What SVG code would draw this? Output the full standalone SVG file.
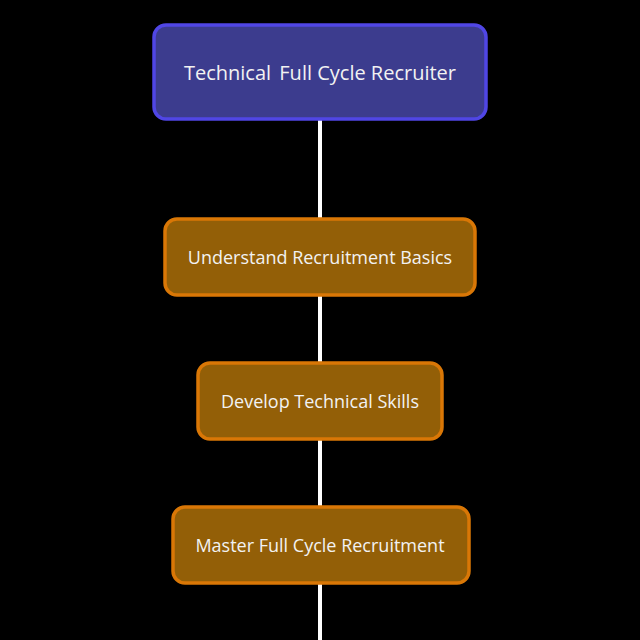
<svg xmlns="http://www.w3.org/2000/svg" width="640" height="640" viewBox="0 0 640 640">
<style>
.bg{fill:#000}
.edge{stroke:#fff;stroke-width:4;fill:none}
.main rect{fill:#3c3c8e;stroke:#5046e5;stroke-width:3.5}
.step rect{fill:#935f07;stroke:#d97706;stroke-width:3.5}
text{font-family:"Open Sans","Noto Sans",sans-serif;font-size:18px;fill:#f2f2f2;text-anchor:middle;dominant-baseline:central}
.main text{font-size:20px}
</style>
<rect class="bg" x="0" y="0" width="640" height="640"/>
<g id="connectors">
<line class="edge" x1="320" y1="119" x2="320" y2="218"/>
<line class="edge" x1="320" y1="295" x2="320" y2="362"/>
<line class="edge" x1="320" y1="439" x2="320" y2="506"/>
<line class="edge" x1="320" y1="583" x2="320" y2="640"/>
</g>
<g id="node-main" class="main">
<rect x="154" y="25" width="332" height="94" rx="12"/>
<text x="320" y="72">Technical <tspan dx="3">Full Cycle Recruiter</tspan></text>
</g>
<g id="node-basics" class="step">
<rect x="165" y="219" width="310" height="76" rx="12"/>
<text x="320" y="257">Understand Recruitment Basics</text>
</g>
<g id="node-skills" class="step">
<rect x="198" y="363" width="244" height="76" rx="12"/>
<text x="320" y="401">Develop Technical Skills</text>
</g>
<g id="node-master" class="step">
<rect x="173" y="507" width="296" height="76" rx="12"/>
<text x="320" y="545">Master Full Cycle Recruitment</text>
</g>
</svg>
